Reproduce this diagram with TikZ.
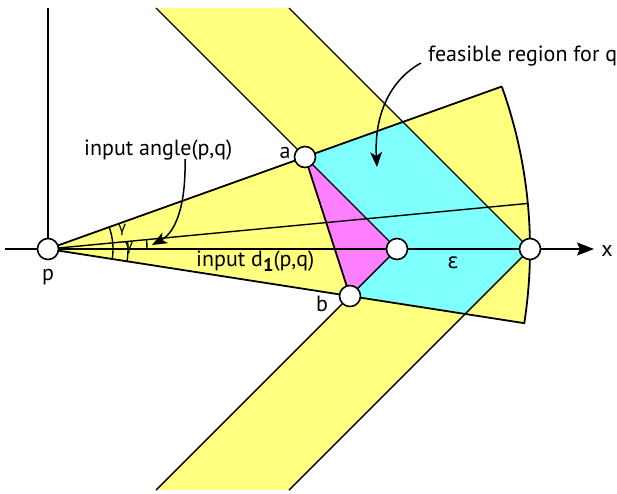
\documentclass[tikz,border=0pt]{standalone}
\usepackage{fontspec}
\setmainfont{PT Sans}
\newfontfamily\grk{DejaVu Sans}
\usetikzlibrary{arrows.meta}
\definecolor{yel}{RGB}{255,255,128}
\definecolor{cyn}{RGB}{128,255,255}
\definecolor{pnk}{RGB}{255,128,255}
\begin{document}
\begin{tikzpicture}[x=1pt,y=-1pt,
  edge/.style={line width=1.8pt},
  thinedge/.style={line width=1.4pt},
  dot/.style={circle,draw,fill=white,line width=1.6pt,minimum size=21pt,inner sep=0pt},
  lbl/.style={font=\fontsize{22}{26}\selectfont,inner sep=0pt},
  glbl/.style={font=\grk\fontsize{15}{17}\selectfont,inner sep=0pt},
  arr/.style={line width=1.5pt,-{Stealth[length=15pt,width=12pt,inset=4pt]}}]
\useasboundingbox (0,0) rectangle (617,493);
% geometry
\coordinate (P) at (48,249);
\coordinate (A) at (305,157);
\coordinate (B) at (349.98,296.02);
\coordinate (Q) at (397,249);
\coordinate (R) at (530,249);
\coordinate (U) at (501.79,86.52);
\coordinate (L) at (524.26,323.16);
\coordinate (M) at (527.84,203.43);
\coordinate (CT) at (402.92,121.92);
\coordinate (CB) at (465.06,313.94);
\coordinate (T1) at (156,8);
\coordinate (T2) at (289,8);
\coordinate (D1) at (156,490);
\coordinate (D2) at (289,490);
\coordinate (X0) at (5,249);
\coordinate (XE) at (594,249);
\coordinate (Y0) at (48,8);
% fills
\fill[yel] (A) -- (T1) -- (T2) -- (R) -- cycle;
\fill[yel] (B) -- (D1) -- (D2) -- (R) -- cycle;
\fill[yel] (P) -- (L) arc[start angle=8.85,end angle=-19.7,radius=482] -- cycle;
\fill[cyn] (A) -- (CT) -- (R) -- (CB) -- (B) -- (Q) -- cycle;
\fill[pnk] (A) -- (Q) -- (B) -- cycle;
% lines
\draw[edge,-{Stealth[length=17pt,width=13pt,inset=3pt]}] (X0) -- (XE);
\draw[edge] (Y0) -- (P);
\draw[edge] (U) -- (P) -- (L) arc[start angle=8.85,end angle=-19.7,radius=482];
\draw[thinedge] (P) -- (M);
\draw[thinedge] (A) -- (T1);
\draw[thinedge] (T2) -- (R) -- (D2);
\draw[thinedge] (B) -- (D1);
\draw[thinedge] (A) -- (Q) -- (B);
\draw[edge] (A) -- (B);
% angle arcs
\draw[thinedge] (P) ++(8.85:65) arc[start angle=8.85,end angle=-19.7,radius=65];
\draw[thinedge] (P) ++(8.85:80) arc[start angle=8.85,end angle=-5.425,radius=80];
\draw[thinedge] (P) ++(0:99) arc[start angle=0,end angle=-5.425,radius=99];
\node[glbl] (g1) at (122,230) {γ};
\node[glbl] (g2) at (129,248) {γ};
% labels
\node[lbl,anchor=base] (lp) at (48,280) {p};
\node[lbl,anchor=base] (la) at (285,158) {a};
\node[lbl,anchor=base] (lb) at (322,311) {b};
\node[lbl,anchor=base] (lx) at (607,256) {x};
\node[lbl,anchor=base west] (lang) at (84,155) {input angle(p,q)};
\node[lbl,anchor=base west] (ld) at (196,266) {input d\raisebox{-5pt}{\fontsize{18.5}{18.5}\selectfont\bfseries 1}(p,q)};
\node[glbl,font=\grk\fontsize{21}{24}\selectfont,anchor=base] (leps) at (453,268) {ε};
\node[lbl,anchor=base west] (lfeas) at (428,61) {feasible region for q};
% arrows
\coordinate (fa0) at (421,63);
\coordinate (fa1) at (377,167);
\draw[arr] (fa0) .. controls (390,80) and (374,115) .. (fa1);
\coordinate (ia0) at (185,159);
\coordinate (ia1) at (152,245);
\draw[arr] (ia0) .. controls (186,205) and (176,232) .. (ia1);
% dots
\node[dot] (p) at (P) {};
\node[dot] (a) at (A) {};
\node[dot] (b) at (B) {};
\node[dot] (q) at (Q) {};
\node[dot] (r) at (R) {};
\end{tikzpicture}
\end{document}
